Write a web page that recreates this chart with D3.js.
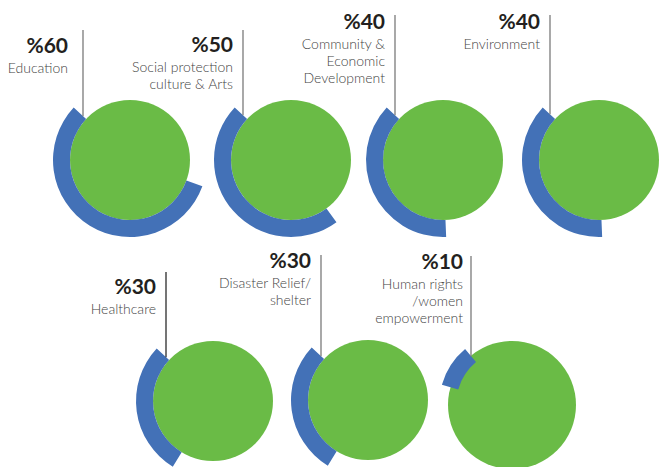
<!DOCTYPE html>
<html>
<head>
<meta charset="utf-8">
<script src="https://cdn.jsdelivr.net/npm/d3@7"></script>
<style>
  html, body { margin: 0; padding: 0; background: #fff; }
  svg { display: block; }
</style>
</head>
<body>
<svg id="chart" width="660" height="467"></svg>
<script>
// Share of projects per sector
const categories = [
  ["Education"],
  ["Social protection", "culture & Arts"],
  ["Community &", "Economic", "Development"],
  ["Environment"],
  ["Healthcare"],
  ["Disaster Relief/", "shelter"],
  ["Human rights", "/women", "empowerment"]
];
const values = [60, 50, 40, 40, 30, 30, 10];
const valueLabels = ["%60", "%50", "%40", "%40", "%30", "%30", "%10"];

// Placement of each badge: circle centre, radii, ring start (deg), leader line offset/top, label baseline
const layout = [
  { cx: 130, cy: 160, r: 60, r0: 60, r1: 77, start: -47, lineDx: -47, lineTop: 30,  valueY: 53,  gap: 15 },
  { cx: 291, cy: 160, r: 60, r0: 60, r1: 77, start: -47, lineDx: -48, lineTop: 30,  valueY: 52,  gap: 10 },
  { cx: 443, cy: 160, r: 60, r0: 60, r1: 77, start: -47, lineDx: -48, lineTop: 15,  valueY: 29,  gap: 10 },
  { cx: 599, cy: 160, r: 60, r0: 60, r1: 77, start: -47, lineDx: -49, lineTop: 15,  valueY: 29,  gap: 10 },
  { cx: 213, cy: 401, r: 60, r0: 60, r1: 77, start: -47, lineDx: -47, lineTop: 272, valueY: 294, gap: 10 },
  { cx: 368, cy: 400, r: 60, r0: 60, r1: 77, start: -47, lineDx: -47, lineTop: 255, valueY: 268, gap: 10 },
  { cx: 512, cy: 405, r: 64, r0: 56, r1: 73, start: -40, lineDx: -41, lineTop: 256, valueY: 269, gap: 8 }
];

const GREEN = "#6abb46";
const BLUE = "#4371b7";
const rad = Math.PI / 180;

// value (percent) -> sweep of the ring, drawn counter-clockwise from the start angle
const sweep = d3.scaleLinear().domain([0, 100]).range([0, 2 * Math.PI * 0.94]);

const svg = d3.select("#chart");

const items = values.map((v, i) => ({
  value: v,
  valueLabel: valueLabels[i],
  lines: categories[i],
  ...layout[i]
}));

const g = svg.selectAll("g.badge")
  .data(items)
  .join("g")
  .attr("class", "badge")
  .attr("transform", d => `translate(${d.cx},${d.cy})`);

g.append("circle")
  .attr("r", d => d.r)
  .attr("fill", GREEN);

const arc = d3.arc();
g.append("path")
  .attr("fill", BLUE)
  .attr("d", d => arc({
    innerRadius: d.r0,
    outerRadius: d.r1,
    startAngle: d.start * rad - sweep(d.value),
    endAngle: d.start * rad
  }));

// leader line drops onto the starting edge of the ring
g.each(function (d) {
  const a = d.start * rad;
  const rho = d.lineDx / Math.sin(a);
  d.lineEnd = -rho * Math.cos(a);
});

g.append("line")
  .attr("x1", d => d.lineDx)
  .attr("x2", d => d.lineDx)
  .attr("y1", d => d.lineTop - d.cy)
  .attr("y2", d => d.lineEnd)
  .attr("stroke", (d, i) => i === 4 ? "#2b2b2b" : "#7a7a7a")
  .attr("stroke-width", 1.3);

g.append("text")
  .attr("x", d => d.lineDx - d.gap)
  .attr("y", d => d.valueY - d.cy)
  .attr("text-anchor", "end")
  .attr("font-family", "Lato, 'Open Sans', sans-serif")
  .attr("font-weight", 700)
  .attr("font-size", 21)
  .attr("fill", "#231f20")
  .text(d => d.valueLabel);

g.append("text")
  .attr("text-anchor", "end")
  .attr("font-family", "Lato, 'Open Sans', sans-serif")
  .attr("font-weight", 300)
  .attr("font-size", 14)
  .attr("fill", "#444")
  .selectAll("tspan")
  .data(d => d.lines.map((t, k) => ({ t, k, d })))
  .join("tspan")
  .attr("x", o => o.d.lineDx - o.d.gap)
  .attr("y", o => o.d.valueY - o.d.cy + 19.5 + o.k * 17.3)
  .text(o => o.t);
</script>
</body>
</html>
